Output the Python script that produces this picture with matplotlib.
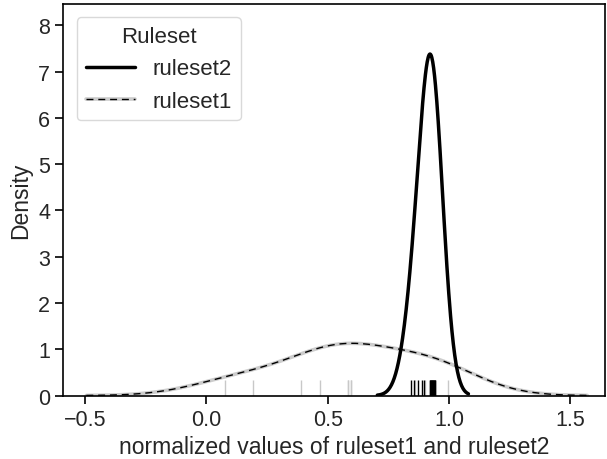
import matplotlib
matplotlib.use("Agg")
import matplotlib.pyplot as plt
import seaborn as sns

ruleset1 = [0.077, 0.194, 0.389, 0.468, 0.585, 0.585, 0.597, 0.597, 0.86, 0.90, 0.93, 0.998]
ruleset2 = [0.842, 0.857, 0.874, 0.888, 0.899,
            0.921, 0.923, 0.925, 0.927, 0.929, 0.931,
            0.933, 0.935, 0.937, 0.939, 0.941, 0.943]
xticks = [-0.5, 0.0, 0.5, 1.0, 1.5]

sns.set_style("ticks")
plt.rcParams["font.family"] = ["Liberation Sans", "DejaVu Sans"]

fig = plt.figure(figsize=(6.07, 4.6), dpi=100)
ax = fig.add_axes([0.1046, 0.138, 0.892, 0.851])

# ruleset1: light grey line with a thin dashed black line on top
sns.kdeplot(x=ruleset1, ax=ax, color="#cccccc", lw=2.6, bw_adjust=1.08)
sns.kdeplot(x=ruleset1, ax=ax, color="black", lw=1.0, ls=(0, (5, 3.5)), bw_adjust=1.08)
sns.rugplot(x=ruleset1, ax=ax, color="#c8c8c8", lw=1.0, height=0.04)

# ruleset2: solid black
sns.kdeplot(x=ruleset2, ax=ax, color="black", lw=2.5, bw_adjust=2.6)
sns.rugplot(x=ruleset2, ax=ax, color="black", lw=1.1, height=0.04)

ax.set_xlim(-0.589, 1.643)
ax.set_ylim(0, 8.46)
ax.set_xticks(xticks)
ax.tick_params(labelsize=15.5, length=6, width=1.2, color="black")
ax.set_xlabel("normalized values of ruleset1 and ruleset2", fontsize=16.5)
ax.set_ylabel("Density", fontsize=16.5)
for s in ax.spines.values():
    s.set_color("black")
    s.set_linewidth(1.2)

h2 = plt.Line2D([], [], color="black", lw=2.5)
h1a = plt.Line2D([], [], color="#cccccc", lw=2.6)
h1b = plt.Line2D([], [], color="black", lw=1.0, ls=(0, (5, 3.5)))
ax.legend([h2, (h1a, h1b)], ["ruleset2", "ruleset1"], title="Ruleset",
          loc="upper left", fontsize=16, title_fontsize=16,
          frameon=True, fancybox=True, edgecolor="#d0d0d0",
          borderaxespad=0.6, handlelength=2.2)

fig.savefig("out.png", dpi=100)
